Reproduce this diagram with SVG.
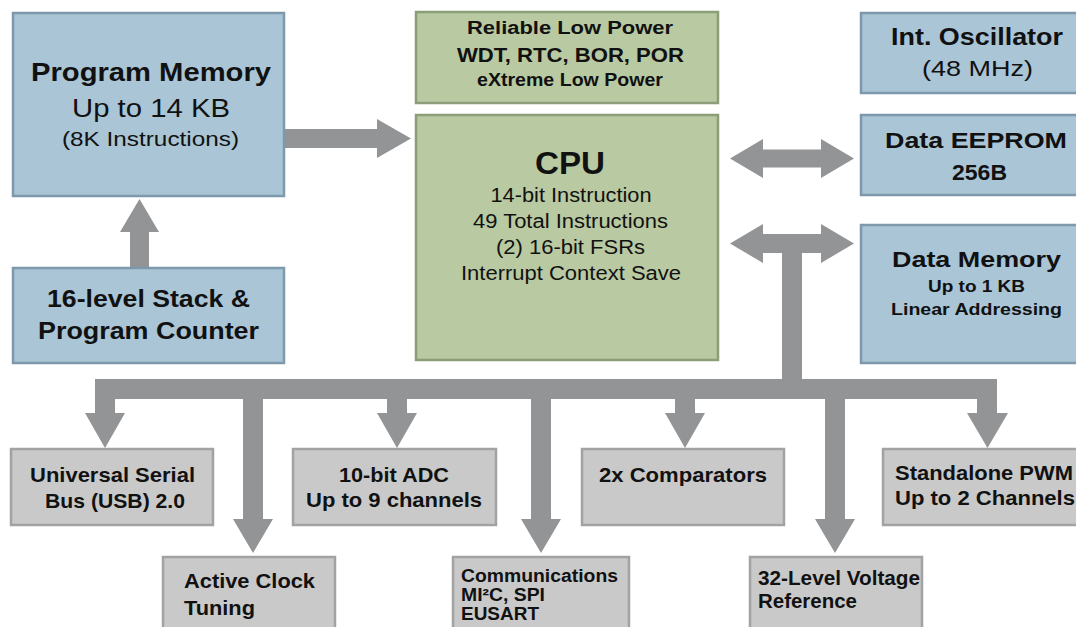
<svg xmlns="http://www.w3.org/2000/svg" width="1076" height="627" viewBox="0 0 1076 627">
<style>
text{font-family:"Liberation Sans",Arial,sans-serif;fill:#111;}
.b{font-weight:bold;}
.c{text-anchor:middle;}
.blue{fill:#a9c5d6;stroke:#7e99ab;stroke-width:2.5;}
.green{fill:#b9c9a1;stroke:#8b9d79;stroke-width:2.5;}
.gray{fill:#c9c9c9;stroke:#a2a2a2;stroke-width:2.5;}
.arr{fill:#939496;}
</style>
<rect width="1076" height="627" fill="#fff"/>
<g id="connectors" class="arr">
<polygon points="284,129 377,129 377,119 411,138.5 377,158 377,148 284,148"/>
<polygon points="130,268 130,232 120,232 139.5,199 159,232 149,232 149,268"/>
<polygon points="730,158.5 763,139 763,149.5 821,149.5 821,139 854,158.5 821,178 821,167.5 763,167.5 763,178"/>
<polygon points="730,243.5 763,224 763,234 821,234 821,224 854,243.5 821,263 821,253 763,253 763,263"/>
<rect x="782" y="250" width="20" height="140"/>
<rect x="95" y="379" width="902" height="20"/>
<polygon points="95,379 115,379 115,413 125,413 105,448 85,413 95,413"/>
<polygon points="387,390 407,390 407,413 417,413 397,448 377,413 387,413"/>
<polygon points="675,390 695,390 695,413 705,413 685,448 665,413 675,413"/>
<polygon points="977,379 997,379 997,413 1008,413 987.5,448 967,413 977,413"/>
<polygon points="243,390 263,390 263,519 273,519 253,553 233,519 243,519"/>
<polygon points="531,390 551,390 551,519 561,519 541,553 521,519 531,519"/>
<polygon points="825,390 845,390 845,519 855,519 835,553 815,519 825,519"/>
</g>
<g id="program-memory">
<rect class="blue" x="13" y="13" width="271" height="183"/>
<text class="b c" x="151" y="81" font-size="25" textLength="240" lengthAdjust="spacingAndGlyphs">Program Memory</text>
<text class="c" x="151" y="117" font-size="26" textLength="158" lengthAdjust="spacingAndGlyphs">Up to 14 KB</text>
<text class="c" x="150.5" y="146" font-size="20" textLength="177" lengthAdjust="spacingAndGlyphs">(8K Instructions)</text>
</g>
<g id="stack">
<rect class="blue" x="13" y="268" width="271" height="95"/>
<text class="b c" x="148.5" y="307" font-size="24" textLength="203" lengthAdjust="spacingAndGlyphs">16-level Stack &amp;</text>
<text class="b c" x="148.5" y="339" font-size="24" textLength="221" lengthAdjust="spacingAndGlyphs">Program Counter</text>
</g>
<g id="low-power">
<rect class="green" x="416" y="12" width="302" height="91"/>
<text class="b c" x="570" y="34" font-size="18" textLength="206" lengthAdjust="spacingAndGlyphs">Reliable Low Power</text>
<text class="b c" x="570.5" y="62" font-size="19.5" textLength="227" lengthAdjust="spacingAndGlyphs">WDT, RTC, BOR, POR</text>
<text class="b c" x="570" y="86" font-size="18" textLength="186" lengthAdjust="spacingAndGlyphs">eXtreme Low Power</text>
</g>
<g id="cpu">
<rect class="green" x="416" y="115" width="302" height="245"/>
<text class="b c" x="570" y="174" font-size="31" textLength="70" lengthAdjust="spacingAndGlyphs">CPU</text>
<text class="c" x="571" y="202" font-size="19.5" textLength="161" lengthAdjust="spacingAndGlyphs">14-bit Instruction</text>
<text class="c" x="570.5" y="228" font-size="19.5" textLength="195" lengthAdjust="spacingAndGlyphs">49 Total Instructions</text>
<text class="c" x="570.5" y="254" font-size="19.5" textLength="149" lengthAdjust="spacingAndGlyphs">(2) 16-bit FSRs</text>
<text class="c" x="571" y="280" font-size="19.5" textLength="220" lengthAdjust="spacingAndGlyphs">Interrupt Context Save</text>
</g>
<g id="oscillator">
<rect class="blue" x="861" y="13" width="225" height="80"/>
<text class="b c" x="977" y="45" font-size="23.5" textLength="172" lengthAdjust="spacingAndGlyphs">Int. Oscillator</text>
<text class="c" x="977.5" y="76" font-size="22" textLength="111" lengthAdjust="spacingAndGlyphs">(48 MHz)</text>
</g>
<g id="eeprom">
<rect class="blue" x="861" y="115" width="225" height="80"/>
<text class="b c" x="976" y="148" font-size="22.5" textLength="182" lengthAdjust="spacingAndGlyphs">Data EEPROM</text>
<text class="b c" x="979.5" y="180" font-size="22.5" textLength="55" lengthAdjust="spacingAndGlyphs">256B</text>
</g>
<g id="data-memory">
<rect class="blue" x="861" y="225" width="225" height="138"/>
<text class="b c" x="976.5" y="267" font-size="22.5" textLength="169" lengthAdjust="spacingAndGlyphs">Data Memory</text>
<text class="b c" x="976.5" y="292" font-size="16" textLength="97" lengthAdjust="spacingAndGlyphs">Up to 1 KB</text>
<text class="b c" x="976.5" y="315" font-size="16" textLength="171" lengthAdjust="spacingAndGlyphs">Linear Addressing</text>
</g>
<g id="usb">
<rect class="gray" x="11" y="449" width="202" height="76"/>
<text class="b c" x="112.5" y="482" font-size="21" textLength="165" lengthAdjust="spacingAndGlyphs">Universal Serial</text>
<text class="b c" x="115" y="508" font-size="21" textLength="140" lengthAdjust="spacingAndGlyphs">Bus (USB) 2.0</text>
</g>
<g id="adc">
<rect class="gray" x="293" y="449" width="203" height="76"/>
<text class="b c" x="394" y="482" font-size="21" textLength="110" lengthAdjust="spacingAndGlyphs">10-bit ADC</text>
<text class="b c" x="394" y="507" font-size="21" textLength="176" lengthAdjust="spacingAndGlyphs">Up to 9 channels</text>
</g>
<g id="comparators">
<rect class="gray" x="582" y="449" width="202" height="76"/>
<text class="b" x="599" y="482" font-size="21" textLength="168" lengthAdjust="spacingAndGlyphs">2x Comparators</text>
</g>
<g id="pwm">
<rect class="gray" x="883" y="449" width="203" height="76"/>
<text class="b" x="895" y="480" font-size="21" textLength="178" lengthAdjust="spacingAndGlyphs">Standalone PWM</text>
<text class="b" x="895" y="505" font-size="21" textLength="180" lengthAdjust="spacingAndGlyphs">Up to 2 Channels</text>
</g>
<g id="clock-tuning">
<rect class="gray" x="163" y="557" width="172" height="80"/>
<text class="b" x="184" y="588" font-size="21" textLength="131" lengthAdjust="spacingAndGlyphs">Active Clock</text>
<text class="b" x="184" y="615" font-size="21" textLength="71" lengthAdjust="spacingAndGlyphs">Tuning</text>
</g>
<g id="communications">
<rect class="gray" x="453" y="557" width="176" height="80"/>
<text class="b" x="461" y="582" font-size="18" textLength="157" lengthAdjust="spacingAndGlyphs">Communications</text>
<text class="b" x="461" y="601" font-size="17.5" textLength="84" lengthAdjust="spacingAndGlyphs">MI²C, SPI</text>
<text class="b" x="461" y="620" font-size="17.5" textLength="78" lengthAdjust="spacingAndGlyphs">EUSART</text>
</g>
<g id="voltage-reference">
<rect class="gray" x="750" y="557" width="172" height="80"/>
<text class="b" x="758" y="585" font-size="21" textLength="162" lengthAdjust="spacingAndGlyphs">32-Level Voltage</text>
<text class="b" x="758" y="608" font-size="21" textLength="99" lengthAdjust="spacingAndGlyphs">Reference</text>
</g>
</svg>
